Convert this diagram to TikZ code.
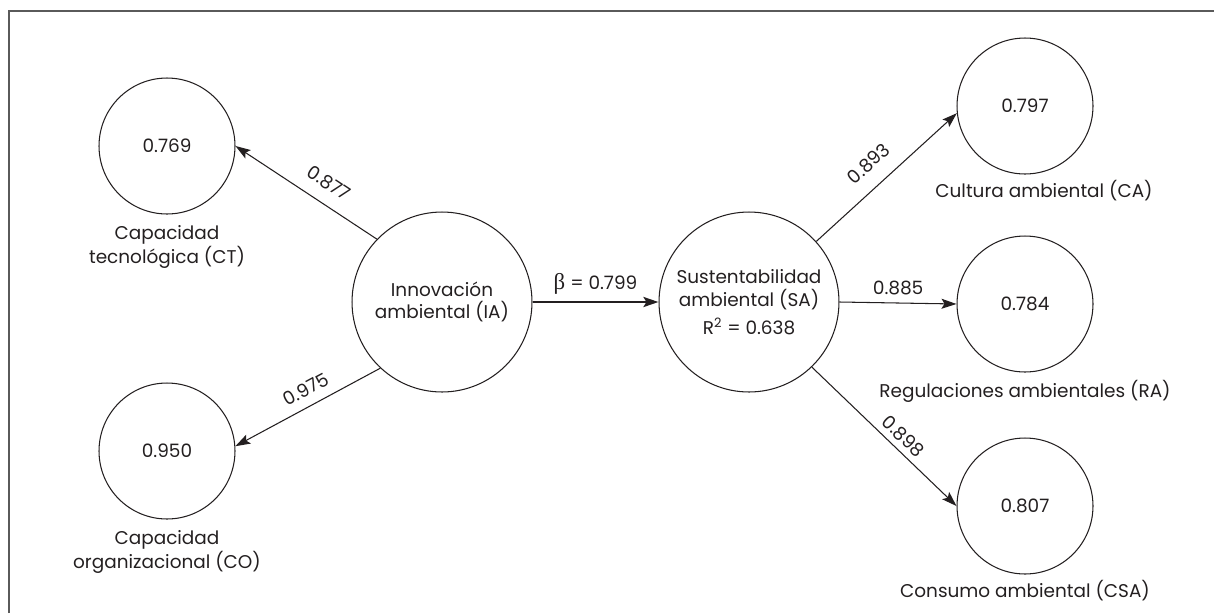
\documentclass[tikz,border=0pt]{standalone}
\usepackage{fontspec}
\setmainfont{Poppins}
\newfontfamily\betafont{Liberation Serif}
\usetikzlibrary{arrows.meta, positioning}
\definecolor{inkdark}{HTML}{231F20}
\definecolor{framegray}{HTML}{5A5A5A}
\tikzset{
  bigcirc/.style={circle, draw=inkdark, line width=0.6pt, minimum size=3.6cm,
                  inner sep=0pt, align=center, text=inkdark,
                  font=\fontsize{10.5}{13}\selectfont},
  smallcirc/.style={circle, draw=inkdark, line width=0.6pt, minimum size=2.72cm,
                  inner sep=0pt, text=inkdark, font=\fontsize{10.5}{13}\selectfont},
  varname/.style={align=center, text=inkdark, font=\fontsize{10.5}{12}\selectfont},
  pathlink/.style={-{Stealth[length=3mm, width=2mm, inset=0.6mm]}, line width=0.6pt, draw=inkdark},
  betalink/.style={-{Stealth[length=3mm, width=2mm, inset=0.6mm]}, line width=1.5pt, draw=inkdark},
  coef/.style={sloped, text=inkdark, font=\fontsize{10.5}{13}\selectfont},
}

\begin{document}
\begin{tikzpicture}[x=0.02cm, y=-0.02cm]
  \useasboundingbox (0,0) rectangle (1214,613);
  % frame
  \draw[framegray, line width=1.1pt] (9,613) -- (9,11) -- (1214,11);

  % latent constructs
  \node[bigcirc] (ia) at (442,302) {Innovación\\ambiental (IA)};
  \node[bigcirc] (sa) at (749,302) {Sustentabilidad\\ambiental (SA)\\[3pt]R\textsuperscript{2} = 0.638};

  % indicators
  \node[smallcirc] (ct)  at (167,146)  {0.769};
  \node[smallcirc] (co)  at (167,451)  {0.950};
  \node[smallcirc] (ca)  at (1025,106) {0.797};
  \node[smallcirc] (ra)  at (1025,304) {0.784};
  \node[smallcirc] (csa) at (1025,506) {0.807};

  % names
  \node[varname] (ctname)  at (167,247)  {Capacidad\\tecnológica (CT)};
  \node[varname] (coname)  at (167,552)  {Capacidad\\organizacional (CO)};
  \node[varname] (caname)  at (1044,191) {Cultura ambiental (CA)};
  \node[varname] (raname)  at (1025,391) {Regulaciones ambientales (RA)};
  \node[varname] (csaname) at (1025,591) {Consumo ambiental (CSA)};

  % paths
  \draw[pathlink] (ia.136) -- (ct.east) node[coef, pos=0.42, above=4pt] {0.877};
  \draw[pathlink] (ia.227) -- (co.4) node[coef, pos=0.46, above=2pt] {0.975};
  \draw[betalink] (ia.east) -- (sa.west) node[coef, midway, above] {{\betafont\fontsize{13}{13}\selectfont β} = 0.799};
  \draw[pathlink] (sa.42) -- (ca.186) node[coef, pos=0.48, above=5pt] {0.893};
  \draw[pathlink] (sa.east) -- (ra.west) node[coef, midway, above=1pt] {0.885};
  \draw[pathlink] (sa.314) -- (csa.west) node[coef, pos=0.57, above] {0.898};
\end{tikzpicture}
\end{document}
